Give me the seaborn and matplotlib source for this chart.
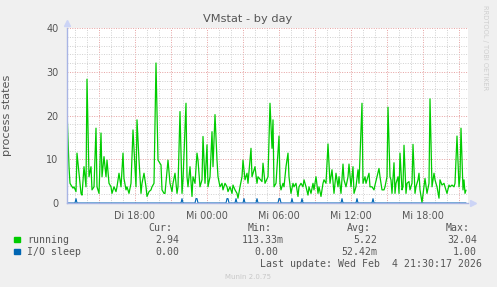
import matplotlib
matplotlib.use("Agg")
import matplotlib.pyplot as plt
import seaborn as sns
import pandas as pd
from matplotlib.ticker import MultipleLocator, FuncFormatter

sns.set_theme(style="white")
plt.rcParams['font.family'] = ['DejaVu Sans']

# ---- data (minutes since Tue 00:00, 5-minute samples) ----
run_min = [740, 750, 755, 760, 770, 775, 785, 790, 800, 810, 815, 825, 835, 840, 850, 860, 865, 875,
           885, 890, 900, 910, 915, 925, 935, 940, 950, 960, 965, 975, 985, 990, 1000, 1010, 1020,
           1025, 1035, 1040, 1050, 1060, 1070, 1085, 1090, 1100, 1110, 1115, 1125, 1135, 1140, 1150,
           1160, 1165, 1175, 1185, 1195, 1210, 1215, 1225, 1230, 1245, 1255, 1265, 1270, 1280, 1290,
           1295, 1305, 1315, 1320, 1335, 1340, 1345, 1355, 1365, 1370, 1380, 1390, 1395, 1405, 1415,
           1420, 1430, 1440, 1445, 1455, 1465, 1470, 1480, 1490, 1495, 1505, 1515, 1520, 1530, 1540,
           1545, 1555, 1565, 1570, 1580, 1590, 1595, 1605, 1615, 1620, 1630, 1640, 1645, 1660, 1665,
           1680, 1690, 1695, 1715, 1720, 1730, 1745, 1755, 1765, 1770, 1775, 1785, 1800, 1805, 1810,
           1820, 1825, 1835, 1845, 1850, 1860, 1870, 1875, 1885, 1895, 1900, 1910, 1920, 1925, 1935,
           1945, 1950, 1960, 1970, 1975, 1985, 1995, 2000, 2010, 2020, 2025, 2035, 2045, 2055, 2065,
           2075, 2085, 2095, 2100, 2110, 2120, 2125, 2135, 2145, 2150, 2160, 2170, 2175, 2185, 2195,
           2200, 2215, 2220, 2230, 2235, 2240, 2250, 2255, 2265, 2275, 2280, 2290, 2300, 2305, 2315,
           2325, 2330, 2340, 2345, 2355, 2360, 2365, 2375, 2380, 2385, 2395, 2400, 2405, 2415, 2420,
           2425, 2435, 2440, 2450, 2455, 2465, 2470, 2480, 2485, 2495, 2500, 2505, 2515, 2525, 2530,
           2540, 2550, 2555, 2565, 2575, 2580, 2590, 2600, 2605, 2615, 2625, 2630, 2640, 2650, 2655,
           2665, 2675, 2680, 2690, 2700, 2705, 2710, 2720, 2725, 2730, 2735]
run_val = [21.1, 8.3, 4.5, 4.1, 3.4, 3.7, 2.6, 11.4, 6.8, 2.2, 1.8, 8.3, 3.7, 28.3, 6.0, 8.3, 3.0, 3.7,
           17.1, 3.7, 2.2, 16.0, 6.0, 10.6, 6.0, 9.8, 4.5, 3.7, 2.2, 3.7, 2.6, 3.7, 6.8, 3.7, 11.4,
           5.6, 3.0, 3.7, 2.2, 4.5, 16.7, 3.7, 19.0, 9.8, 2.2, 4.5, 6.8, 3.7, 1.5, 2.6,
           3.0, 3.7, 4.5, 32.0, 9.8, 8.7, 3.0, 2.2, 2.2, 9.8, 4.5, 2.6, 4.5, 6.8, 2.2,
           3.7, 20.9, 2.2, 5.3, 22.8, 6.0, 3.7, 8.3, 1.5, 6.0, 4.5, 11.4, 9.8, 3.7, 5.3,
           15.2, 4.5, 13.3, 3.7, 6.0, 16.3, 8.3, 20.2, 9.8, 6.0, 3.7, 4.5, 3.0, 4.5, 3.7,
           2.6, 3.7, 2.2, 4.1, 3.0, 2.2, 1.1, 3.7, 6.0, 9.8, 5.3, 6.8, 4.5, 12.5, 6.0,
           8.3, 4.5, 6.0, 4.9, 9.1, 4.5, 6.0, 22.8, 12.5, 19.0, 3.7, 4.5, 15.3, 4.5, 3.0,
           4.5, 3.7, 8.3, 11.4, 6.0, 2.2, 4.5, 3.7, 4.5, 1.5, 3.7, 4.5, 3.7, 5.3, 3.7,
           1.8, 3.7, 2.2, 4.5, 3.0, 6.0, 2.2, 3.7, 1.5, 4.5, 5.3, 4.5, 13.5, 4.5, 7.6,
           2.2, 6.8, 3.7, 6.0, 2.2, 8.9, 5.3, 3.7, 6.0, 8.9, 3.7, 8.3, 2.2, 3.7, 7.6,
           4.5, 22.8, 4.5, 6.0, 4.5, 5.3, 6.8, 3.7, 3.7, 3.0, 4.1, 6.0, 7.9, 6.0, 3.0,
           3.0, 3.7, 6.0, 21.9, 6.0, 5.3, 2.2, 9.2, 2.2, 4.5, 6.0, 2.2, 11.4, 3.0, 3.7,
           13.2, 2.2, 4.5, 4.9, 3.0, 4.5, 13.4, 2.2, 3.7, 5.3, 6.8, 3.0, 0.11, 3.7, 5.6,
           2.2, 4.5, 23.8, 3.7, 6.8, 5.3, 3.7, 1.1, 5.3, 4.1, 4.5, 3.7, 2.2, 4.1, 3.7,
           4.1, 3.7, 4.5, 15.3, 3.7, 6.0, 17.1, 3.0, 5.3, 2.2, 2.94]

io_min = [740, 780, 785, 790, 1310, 1315, 1320, 1380, 1385, 1390, 1395, 1535, 1540, 1545, 1550,
          1580, 1585, 1590, 1620, 1625, 1630, 1685, 1690, 1695, 1795, 1800, 1805, 1810, 1860, 1865,
          1870, 1910, 1915, 1920, 2110, 2115, 2120, 2185, 2190, 2195, 2265, 2270, 2275, 2735]
io_val = [0, 0, 1, 0, 0, 1, 0, 0, 1, 1, 0, 0, 1, 1, 0,
          0, 1, 0, 0, 1, 0, 0, 1, 0, 0, 1, 1, 0, 0, 1,
          0, 0, 1, 0, 0, 1, 0, 0, 1, 0, 0, 1, 0, 0]

tick_min = [1080, 1440, 1800, 2160, 2520]
tick_labels = ["Di 18:00", "Mi 00:00", "Mi 06:00", "Mi 12:00", "Mi 18:00"]

series_names = ["running", "I/O sleep"]
series_colors = ["#00cc00", "#0066b3"]
stat_headers = ["Cur:", "Min:", "Avg:", "Max:"]
stats_running = ["2.94", "113.33m", "5.22", "32.04"]
stats_io = ["0.00", "0.00", "52.42m", "1.00"]

W, H = 497, 287
fig = plt.figure(figsize=(W / 100, H / 100), dpi=100, facecolor="#f0f0f0")
ax = fig.add_axes([67 / W, (H - 203) / H, 401 / W, 175 / H])
ax.set_facecolor("white")

df_run = pd.DataFrame({"t": run_min, "v": run_val})
df_io = pd.DataFrame({"t": io_min, "v": io_val})
sns.lineplot(data=df_run, x="t", y="v", ax=ax, color=series_colors[0], lw=0.9, zorder=3)
sns.lineplot(data=df_io, x="t", y="v", ax=ax, color=series_colors[1], lw=0.8, zorder=3)

ax.set_xlim(740, 2745)
ax.set_ylim(0, 40)
ax.xaxis.set_major_locator(MultipleLocator(180))
ax.xaxis.set_minor_locator(MultipleLocator(60))
ax.yaxis.set_major_locator(MultipleLocator(10))
ax.yaxis.set_minor_locator(MultipleLocator(2))
lab = dict(zip(tick_min, tick_labels))
ax.xaxis.set_major_formatter(FuncFormatter(lambda v, p: lab.get(int(round(v)), "")))

ax.set_axisbelow(True)
ax.grid(which="minor", color="#d0d0d0", linestyle=(0, (1, 1.5)), lw=0.7)
ax.grid(which="major", color="#e6a0a0", linestyle=(0, (1, 1.5)), lw=0.7)

ax.tick_params(axis="both", which="major", length=2.5, width=0.7, color="#e6a0a0",
               labelsize=6.9, labelcolor="#555555")
ax.tick_params(axis="both", which="minor", length=1.5, width=0.7, color="#c8c8c8")
ax.tick_params(axis="x", which="major", pad=3)
ax.tick_params(axis="y", which="major", pad=3.5)

for s in ["top", "right"]:
    ax.spines[s].set_visible(False)
for s in ["left", "bottom"]:
    ax.spines[s].set_color("#a8b4e4")
    ax.spines[s].set_linewidth(1.0)
    ax.spines[s].set_zorder(4)

ax.plot([0], [1.03], marker="^", ms=4, color="#ccd4f6", transform=ax.transAxes, clip_on=False)
ax.plot([1.012], [0], marker=">", ms=4, color="#ccd4f6", transform=ax.transAxes, clip_on=False)

ax.set_xlabel("")
ax.set_ylabel("process states", fontsize=8.1, color="#555555")
ax.yaxis.set_label_coords(-0.137, 0.5)

def fx(px):
    return px / W

def fy(py):
    return 1 - py / H

fig.text(fx(248), fy(22), "VMstat - by day", ha="center", va="baseline",
         fontsize=8.2, color="#555555")
fig.text(fx(485), fy(5), "RRDTOOL / TOBI OETIKER", rotation=270, ha="center", va="top",
         fontsize=4.8, color="#cfcfcf")

mono = dict(family="DejaVu Sans Mono", fontsize=7.1, color="#555555", va="baseline")
hdr_x = [172, 272, 371, 470]
for h, x in zip(stat_headers, hdr_x):
    fig.text(fx(x), fy(231), h, ha="right", **mono)

rows = [(stats_running, [179, 284, 377, 477], 243),
        (stats_io, [179, 278, 377, 477], 255)]
for i, (vals, xs, y) in enumerate(rows):
    fig.patches.append(plt.Rectangle((fx(14), fy(y - 1)), 5.5 / W, 5.5 / H,
                                     transform=fig.transFigure, color=series_colors[i]))
    fig.text(fx(27), fy(y), series_names[i], ha="left", **mono)
    for v, x in zip(vals, xs):
        fig.text(fx(x), fy(y), v, ha="right", **mono)

fig.text(fx(482), fy(267), "Last update: Wed Feb  4 21:30:17 2026", ha="right", **mono)
fig.text(fx(248), fy(279), "Munin 2.0.75", ha="center", va="baseline",
         fontsize=5, color="#c8c8c8")

fig.savefig("out.png", dpi=100, facecolor=fig.get_facecolor())
